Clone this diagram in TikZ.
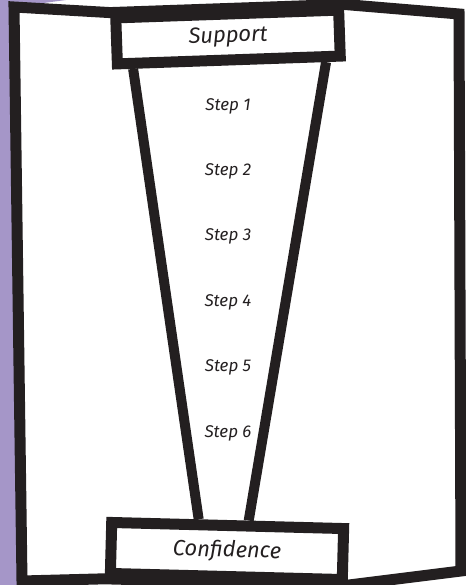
\documentclass[tikz,border=0pt]{standalone}
\usepackage{fontspec}
\setmainfont{Fira Sans}
\usetikzlibrary{calc,positioning}
\definecolor{FnInk}{HTML}{231F20}
\definecolor{FnLilac}{HTML}{A596C8}
\tikzset{
  fnBase/.style={
    font=\fontsize{22pt}{25pt}\selectfont\itshape,
    text=FnInk,
    inner sep=0pt
  },
  fnBox/.style={
    fnBase,
    draw=FnInk,
    line width=11pt
  },
  fnStep/.style={
    fnBase,
    font=\fontsize{17pt}{19pt}\selectfont\itshape,
    minimum height=65pt
  },
  fnFrame/.style={
    draw=FnInk,
    line width=11pt
  },
  fnLine/.style={
    draw=FnInk,
    line width=10pt
  }
}

\begin{document}
\begin{tikzpicture}[x=1pt, y=-1pt]
  \useasboundingbox (0,0) rectangle (465,585);
  % lilac edge of the page
  \fill[FnLilac] (0,0) -- (66,0) -- (14,7) -- (22,581) -- (22,585) -- (0,585) -- cycle;

  \node (sup) [fnBox, minimum width=223pt, minimum height=46pt, rotate=2] at (228,37) {Support};
  \node (conf) [fnBox, minimum width=232pt, minimum height=51pt, rotate=-1.5] at (227,551) {Confidence};

  \node (s1) [fnStep] at (228,106) {Step 1};
  \node (s2) [fnStep, below=0pt of s1] {Step 2};
  \node (s3) [fnStep, below=0pt of s2] {Step 3};
  \node (s4) [fnStep, below=0pt of s3] {Step 4};
  \node (s5) [fnStep, below=0pt of s4] {Step 5};
  \node (s6) [fnStep, below=0pt of s5] {Step 6};

  % outer frame
  \draw [fnFrame] (14,7) -- (sup.north west) -- (sup.north east) -- (459,14)
    -- (461,571) -- (conf.south east) -- (conf.south west) -- (22,581) -- cycle;

  % funnel
  \draw [fnLine] ($(sup.south west)!0.09!(sup.south east)$) -- ($(conf.north west)!0.38!(conf.north east)$);
  \draw [fnLine] ($(sup.south west)!0.915!(sup.south east)$) -- ($(conf.north west)!0.586!(conf.north east)$);
\end{tikzpicture}
\end{document}
